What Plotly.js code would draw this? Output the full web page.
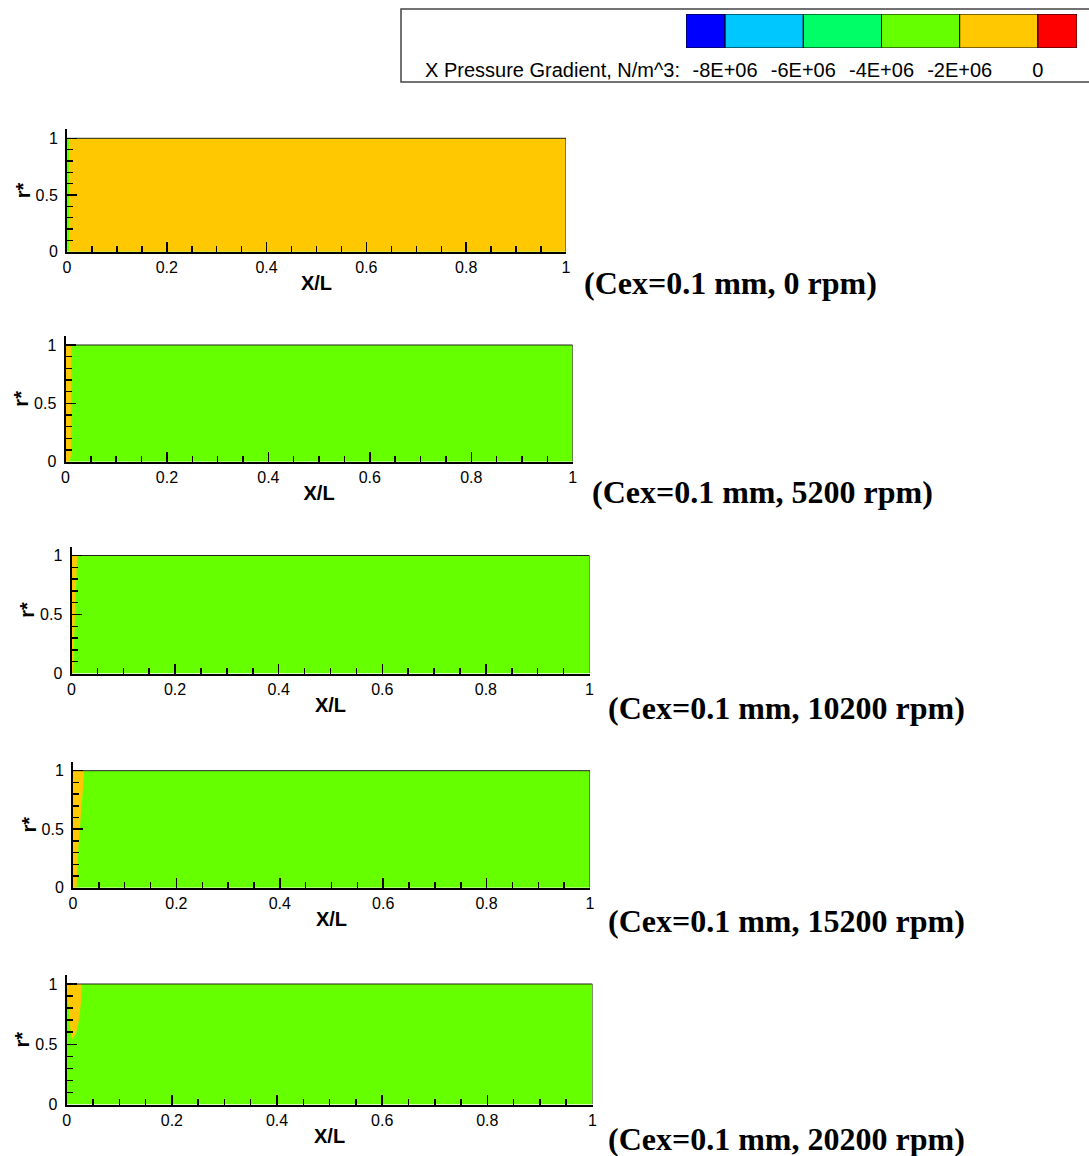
<!DOCTYPE html>
<html>
<head>
<meta charset="utf-8">
<script src="https://cdn.plot.ly/plotly-3.0.1.min.js"></script>
<style>html,body{margin:0;padding:0;background:#fff;}#chart{width:1089px;height:1156px;}</style>
</head>
<body>
<div id="chart"></div>
<script>
// ---------------- DATA ----------------
const clearanceMm = '0.1';
const speedsRpm = [0, 5200, 10200, 15200, 20200];

// legend levels (X pressure gradient, N/m^3) and band colours
const legendLevels = [-8e6, -6e6, -4e6, -2e6, 0];
const legendLabels = ['-8E+06', '-6E+06', '-4E+06', '-2E+06', '0'];
const legendColors = ['#0000ff', '#00c8ff', '#00ff66', '#66ff00', '#ffc800', '#ff0000'];

// computational domain (X/L, r*)
const domainX = [0, 1];
const domainR = [0, 1];

// band filling the whole domain (index into legendColors) and the -2E+06..0 band region
const backgroundBand = 3;
const regionBand = 4;

// boundaries of the -2E+06..0 (yellow) region for each speed: r*, left X/L, right X/L
const r0 = [0, 1];
const xs0 = [0.004, 0.004];
const xe0 = [1, 1];

const r5200 = [0, 0.05, 1];
const xs5200 = [0, 0, 0];
const xe5200 = [0.007, 0.011, 0.011];

const r10200 = [0, 0.1, 0.2, 0.3, 0.4, 0.5, 0.6, 0.7, 0.8, 0.9, 1];
const xs10200 = [0, 0, 0, 0, 0, 0, 0, 0, 0, 0, 0];
const xe10200 = [0.002, 0.004, 0.0045, 0.005, 0.006, 0.0065, 0.007, 0.008, 0.0095, 0.010, 0.011];

const r15200 = [0, 0.25, 0.5, 0.81, 1];
const xs15200 = [0, 0, 0, 0, 0];
const xe15200 = [0.007, 0.009, 0.013, 0.0185, 0.022];

const r20200 = [0.54, 0.6, 0.67, 0.76, 0.84, 0.92, 1.0];
const xs20200 = [0.011, 0.0076, 0.006, 0.005, 0.003, 0, 0];
const xe20200 = [0.011, 0.018, 0.022, 0.025, 0.027, 0.028, 0.0285];

const regions = [
  {r: r0, xs: xs0, xe: xe0},
  {r: r5200, xs: xs5200, xe: xe5200},
  {r: r10200, xs: xs10200, xe: xe10200},
  {r: r15200, xs: xs15200, xe: xe15200},
  {r: r20200, xs: xs20200, xe: xe20200}
];

// ---------------- LAYOUT (pixels) ----------------
const W = 1089, H = 1156;
const boxes = [
  {l: 67, r: 566, t: 138.3, b: 251.7, cx: 582, cy: 283},
  {l: 65.5, r: 572.7, t: 345, b: 461.7, cx: 590, cy: 492},
  {l: 71.5, r: 589.5, t: 555.5, b: 673.5, cx: 606, cy: 708},
  {l: 73, r: 590, t: 770.7, b: 887.7, cx: 606, cy: 921},
  {l: 66.7, r: 592.5, t: 984, b: 1104.5, cx: 606, cy: 1139}
];
const overshoot = 9;

const tickFont = {family: 'Liberation Sans, Arial, sans-serif', size: 16, color: '#000'};
const titleFont = {family: 'Liberation Sans, Arial, sans-serif', size: 20, color: '#000', weight: 'bold'};

const traces = [];
const layout = {
  width: W, height: H,
  margin: {l: 0, r: 0, t: 0, b: 0},
  paper_bgcolor: '#fff', plot_bgcolor: 'rgba(0,0,0,0)',
  showlegend: false,
  shapes: [], annotations: []
};

boxes.forEach((bx, i) => {
  const n = i + 1;
  const xa = 'x' + (n === 1 ? '' : n), ya = 'y' + (n === 1 ? '' : n);
  const xk = 'xaxis' + (n === 1 ? '' : n), yk = 'yaxis' + (n === 1 ? '' : n);
  const rTop = domainR[1] + overshoot / (bx.b - bx.t);

  // background band over the domain
  traces.push({
    type: 'scatter', mode: 'none', xaxis: xa, yaxis: ya,
    x: [domainX[0], domainX[1], domainX[1], domainX[0], domainX[0]],
    y: [domainR[0], domainR[0], domainR[1], domainR[1], domainR[0]],
    fill: 'toself', fillcolor: legendColors[backgroundBand], hoverinfo: 'skip'
  });
  // yellow region
  const reg = regions[i];
  const px = reg.xs.concat(reg.xe.slice().reverse());
  const py = reg.r.concat(reg.r.slice().reverse());
  traces.push({
    type: 'scatter', mode: 'none', xaxis: xa, yaxis: ya,
    x: px.concat([px[0]]), y: py.concat([py[0]]),
    fill: 'toself', fillcolor: legendColors[regionBand], hoverinfo: 'skip'
  });
  // domain border (top + right)
  traces.push({
    type: 'scatter', mode: 'lines', xaxis: xa, yaxis: ya,
    x: [domainX[0], domainX[1], domainX[1]],
    y: [domainR[1], domainR[1], domainR[0]],
    line: {color: '#222', width: 1}, hoverinfo: 'skip'
  });

  layout[xk] = {
    domain: [bx.l / W, bx.r / W], anchor: ya, range: [domainX[0], domainX[1]],
    dtick: 0.2, tick0: 0, ticks: 'inside', ticklen: 10, tickwidth: 1.5, tickcolor: '#000',
    minor: {dtick: 0.05, tick0: 0, ticks: 'inside', ticklen: 6, tickwidth: 1.5, tickcolor: '#000', showgrid: false},
    showline: true, linewidth: 2, linecolor: '#000', showgrid: false, zeroline: false,
    tickfont: tickFont, ticklabelstandoff: 0, automargin: false, fixedrange: true,
    title: {text: 'X/L', font: titleFont, standoff: 1}
  };
  layout[yk] = {
    domain: [(H - bx.b) / H, (H - (bx.t - overshoot)) / H], anchor: xa, range: [domainR[0], rTop],
    tickvals: [0, 0.5, 1], ticks: 'inside', ticklen: 10, tickwidth: 1.5, tickcolor: '#000',
    minor: {dtick: 0.1, tick0: 0, ticks: 'inside', ticklen: 6, tickwidth: 1.5, tickcolor: '#000', showgrid: false},
    showline: true, linewidth: 2, linecolor: '#000', showgrid: false, zeroline: false,
    tickfont: tickFont, ticklabelstandoff: 4, automargin: false, fixedrange: true,
    title: {text: 'r*', font: titleFont, standoff: 0}
  };

  layout.annotations.push({
    xref: 'paper', yref: 'paper', x: bx.cx / W, y: (H - bx.cy) / H,
    xanchor: 'left', yanchor: 'middle', showarrow: false,
    text: '(Cex=' + clearanceMm + ' mm, ' + speedsRpm[i] + ' rpm)',
    font: {family: 'Liberation Serif, Times New Roman, serif', size: 32, color: '#000', weight: 'bold'}
  });
});

// ---------------- LEGEND (colour bar on its own axis) ----------------
const step = legendLevels[1] - legendLevels[0];
const half = step / 2;
const bandStart = [legendLevels[0] - half].concat(legendLevels);
const bandEnd = legendLevels.concat([legendLevels[legendLevels.length - 1] + half]);
traces.push({
  type: 'bar', orientation: 'h', xaxis: 'x6', yaxis: 'y6',
  y: bandStart.map(() => 0.5),
  base: bandStart,
  x: bandStart.map((s, k) => bandEnd[k] - s),
  width: 1,
  marker: {color: legendColors, line: {color: '#000', width: 1}},
  hoverinfo: 'skip'
});
layout.xaxis6 = {
  domain: [686 / W, 1077 / W], anchor: 'y6',
  range: [bandStart[0], bandEnd[bandEnd.length - 1]],
  tickvals: legendLevels, ticktext: legendLabels, ticks: '',
  showline: false, showgrid: false, zeroline: false, fixedrange: true,
  tickfont: {family: 'Liberation Sans, Arial, sans-serif', size: 20, color: '#000'},
  ticklabelstandoff: 8, automargin: false
};
layout.yaxis6 = {
  domain: [(H - 48) / H, (H - 14) / H], anchor: 'x6', range: [0, 1],
  showticklabels: false, ticks: '', showline: false, showgrid: false, zeroline: false, fixedrange: true
};
layout.annotations.push({
  xref: 'paper', yref: 'paper', x: 682 / W, y: (H - 70) / H,
  xanchor: 'right', yanchor: 'middle', showarrow: false,
  text: 'X Pressure Gradient, N/m^3:',
  font: {family: 'Liberation Sans, Arial, sans-serif', size: 20, color: '#000'}
});
layout.shapes.push({
  type: 'rect', xref: 'paper', yref: 'paper',
  x0: 401 / W, x1: 1.01, y0: (H - 82) / H, y1: (H - 9) / H,
  line: {color: '#444', width: 1.5}, fillcolor: 'rgba(0,0,0,0)', layer: 'below'
});

Plotly.newPlot('chart', traces, layout, {staticPlot: true, displayModeBar: false});
</script>
</body>
</html>
